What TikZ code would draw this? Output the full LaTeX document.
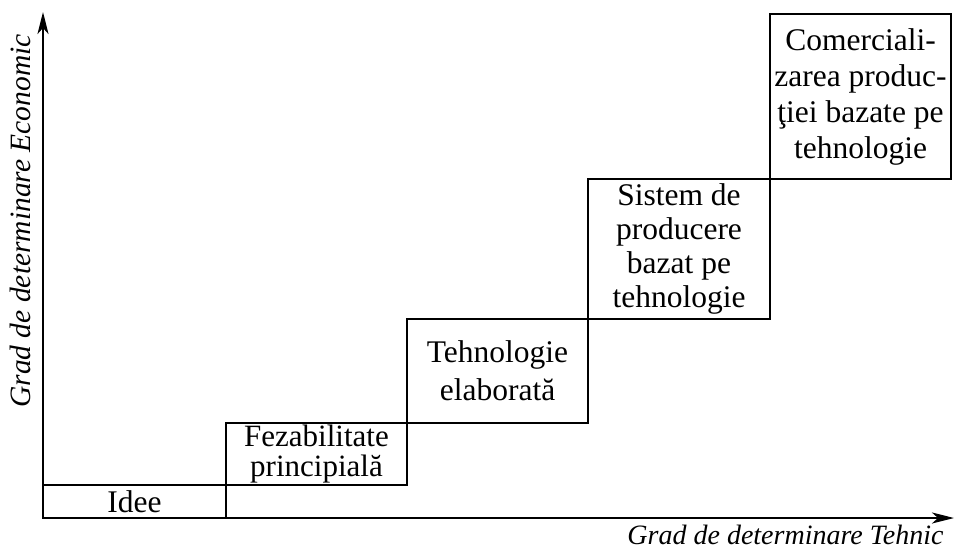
\documentclass[tikz,border=0pt]{standalone}
\usepackage{fontspec}
\setmainfont{Liberation Serif}
\usetikzlibrary{arrows.meta,positioning}

\begin{document}
\begin{tikzpicture}[x=1pt,y=-1pt,
    stage/.style={draw,line width=2.5pt,inner sep=0pt,outer sep=0pt,align=center,
        minimum width=181pt,anchor=south west,font=\fontsize{31.5}{35}\selectfont},
    axis/.style={line width=2.5pt,-{Stealth[length=22pt,width=11pt,inset=6pt]}}]
    \useasboundingbox (0,0) rectangle (955,554);

    % Axes
    \coordinate (origin) at (43,518);
    \coordinate (yend) at (43,12);
    \coordinate (xend) at (954,518);
    \draw[axis] (origin) -- (yend);
    \draw[axis] (origin) -- (xend);

    % Stages, each one step up and to the right
    \node[stage,minimum width=183pt,minimum height=33pt] (idee) at (origin) {Idee};
    \node[stage,minimum height=62pt,font=\fontsize{31}{30}\selectfont] (fez) at (idee.north east) {Fezabilitate\\principială};
    \node[stage,minimum height=104pt,font=\fontsize{31.5}{38}\selectfont] (tehn) at (fez.north east) {Tehnologie\\elaborată};
    \node[stage,minimum width=182pt,minimum height=140pt,font=\fontsize{31.5}{34}\selectfont] (sist) at (tehn.north east) {Sistem de\\producere\\bazat pe\\tehnologie};
    \node[stage,minimum height=165pt,font=\fontsize{31.5}{36}\selectfont] (com) at (sist.north east) {Comerciali-\\zarea produc-\\ţiei bazate pe\\tehnologie};

    % Axis labels
    \node[font=\itshape\fontsize{29.5}{30}\selectfont,rotate=90] (ylabel) at (20,221) {Grad de determinare Economic};
    \node[font=\itshape\fontsize{28}{30}\selectfont,anchor=base east] (xlabel) at (947,544) {Grad de determinare Tehnic};
\end{tikzpicture}
\end{document}
